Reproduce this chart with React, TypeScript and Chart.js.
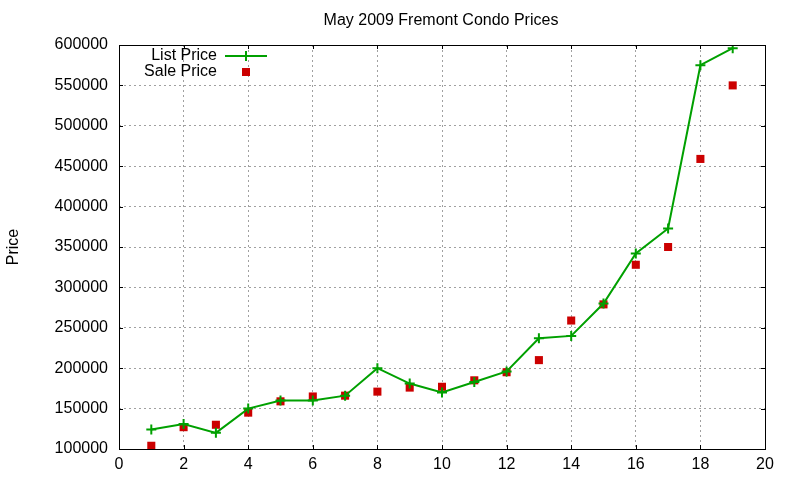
import { useEffect, useRef } from "react";
import { Chart, registerables, type Plugin } from "chart.js";

Chart.register(...registerables);

const TITLE = "May 2009 Fremont Condo Prices";
const Y_LABEL = "Price";
const SERIES_NAMES = ["List Price", "Sale Price"];

const condoIndex = [1, 2, 3, 4, 5, 6, 7, 8, 9, 10, 11, 12, 13, 14, 15, 16, 17, 18, 19];
const listPrices = [
  124000, 131000, 120000, 150000, 160000, 160000, 166000, 200000, 181000, 170000,
  183000, 196000, 237000, 240000, 280000, 342000, 373000, 575000, 596000
];
const salePrices = [
  104000, 127000, 130000, 145000, 159000, 165000, 166000, 171000, 176000, 177000,
  185000, 195000, 210000, 259000, 279000, 328000, 350000, 459000, 550000
];

const X_MIN = 0;
const X_MAX = 20;
const X_STEP = 2;
const Y_MIN = 100000;
const Y_MAX = 600000;
const Y_STEP = 50000;

const GREEN = "#00a000";
const RED = "#cc0000";
const FONT = "'Liberation Sans', Arial, sans-serif";

/** gnuplot-ish frame: full black box, short inward ticks on all four sides, title, and a top-left key. */
const framePlugin: Plugin<"line"> = {
  id: "gnuplotFrame",
  afterDraw(chart) {
    const { ctx, chartArea, scales } = chart;
    const { left, right, top, bottom } = chartArea;
    ctx.save();
    ctx.strokeStyle = "#000";
    ctx.lineWidth = 1;

    ctx.beginPath();
    for (const tick of scales.x.ticks) {
      const x = Math.round(scales.x.getPixelForValue(tick.value)) + 0.5;
      ctx.moveTo(x, bottom);
      ctx.lineTo(x, bottom - 4);
      ctx.moveTo(x, top);
      ctx.lineTo(x, top + 4);
    }
    for (const tick of scales.y.ticks) {
      const y = Math.round(scales.y.getPixelForValue(tick.value)) + 0.5;
      ctx.moveTo(left, y);
      ctx.lineTo(left + 4, y);
      ctx.moveTo(right, y);
      ctx.lineTo(right - 4, y);
    }
    ctx.stroke();
    ctx.strokeRect(Math.round(left) + 0.5, Math.round(top) + 0.5, Math.round(right - left), Math.round(bottom - top));

    // title
    ctx.fillStyle = "#000";
    ctx.font = `16px ${FONT}`;
    ctx.textAlign = "center";
    ctx.textBaseline = "middle";
    ctx.fillText(TITLE, 441, 21);

    // key
    ctx.textAlign = "right";
    ctx.fillText(SERIES_NAMES[0], 217, 56);
    ctx.fillText(SERIES_NAMES[1], 217, 72);

    ctx.strokeStyle = GREEN;
    ctx.lineWidth = 2;
    ctx.beginPath();
    ctx.moveTo(225, 56);
    ctx.lineTo(267, 56);
    ctx.moveTo(246, 51);
    ctx.lineTo(246, 61);
    ctx.stroke();

    ctx.fillStyle = RED;
    ctx.fillRect(242, 68, 8, 8);
    ctx.restore();
  }
};

export default function App() {
  const canvasRef = useRef<HTMLCanvasElement>(null);

  useEffect(() => {
    const canvas = canvasRef.current;
    if (!canvas) return;

    const chart = new Chart(canvas, {
      type: "line",
      data: {
        labels: condoIndex,
        datasets: [
          {
            label: SERIES_NAMES[0],
            data: condoIndex.map((x, i) => ({ x, y: listPrices[i] })),
            borderColor: GREEN,
            backgroundColor: GREEN,
            borderWidth: 2,
            pointStyle: "cross",
            pointRadius: 5,
            pointBorderWidth: 2,
            tension: 0
          },
          {
            label: SERIES_NAMES[1],
            data: condoIndex.map((x, i) => ({ x, y: salePrices[i] })),
            showLine: false,
            borderColor: RED,
            backgroundColor: RED,
            pointStyle: "rect",
            pointRadius: 5.7,
            pointBorderWidth: 0
          }
        ]
      },
      options: {
        animation: false,
        responsive: true,
        maintainAspectRatio: false,
        layout: { padding: { top: 45, right: 35, left: 0, bottom: 0 } },
        plugins: {
          legend: { display: false },
          tooltip: { enabled: false },
          title: { display: false }
        },
        scales: {
          x: {
            type: "linear",
            min: X_MIN,
            max: X_MAX,
            // in Chart.js 4 border.dash dashes the grid lines too
            border: { display: false, dash: [2, 3] },
            grid: { color: "#a0a0a0", drawTicks: false },
            ticks: {
              stepSize: X_STEP,
              padding: 6,
              color: "#000",
              font: { family: FONT, size: 16 },
              maxRotation: 0
            },
            afterFit: (scale) => {
              scale.height = 31;
            }
          },
          y: {
            min: Y_MIN,
            max: Y_MAX,
            border: { display: false, dash: [2, 3] },
            grid: { color: "#a0a0a0", drawTicks: false },
            ticks: {
              stepSize: Y_STEP,
              padding: 11,
              color: "#000",
              font: { family: FONT, size: 16 },
              callback: (value) => String(value)
            },
            title: {
              display: true,
              text: Y_LABEL,
              color: "#000",
              font: { family: FONT, size: 16 },
              padding: { top: 4, bottom: 0 }
            },
            afterFit: (scale) => {
              scale.width = 119;
            }
          }
        }
      },
      plugins: [framePlugin]
    });

    return () => {
      chart.destroy();
    };
  }, []);

  return (
    <div style={{ position: "absolute", left: 0, top: 0, width: 800, height: 480, background: "#fff" }}>
      <canvas ref={canvasRef} />
    </div>
  );
}
